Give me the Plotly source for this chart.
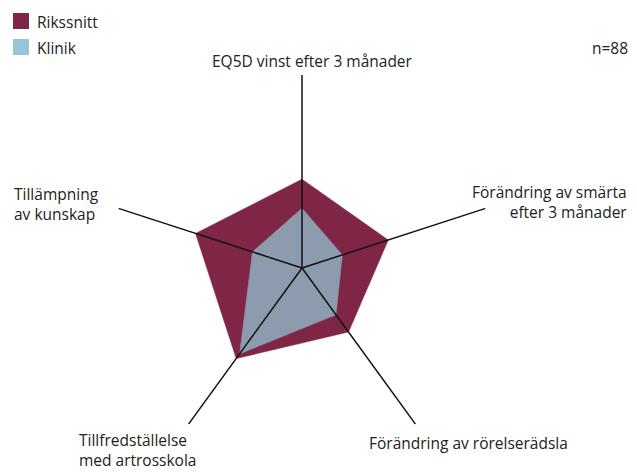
import plotly.graph_objects as go

categories = [
    "EQ5D vinst efter 3 månader",
    "Förändring av smärta<br>efter 3 månader",
    "Förändring av rörelserädsla",
    "Tillfredställelse<br>med artrosskola",
    "Tillämpning<br>av kunskap",
]
rikssnitt = [46, 47, 41, 58, 58]
klinik = [31, 22, 30, 55, 27]
series_names = ["Rikssnitt", "Klinik"]
n_text = "n=88"
r_max = 100

MAROON = "#7F2545"
FILL_BLUE = "#8C9BAD"
LEGEND_BLUE = "#96C6D6"
TEXT = "#222222"
FONT = "Open Sans"
FS = 15.5

theta_labels = [str(i) for i in range(len(categories))]

fig = go.Figure()
fig.add_trace(go.Scatterpolar(
    r=rikssnitt + [rikssnitt[0]], theta=theta_labels + [theta_labels[0]],
    fill="toself", fillcolor=MAROON, line=dict(color=MAROON, width=0.5),
    mode="lines", name=series_names[0], showlegend=False, hoverinfo="skip"))
fig.add_trace(go.Scatterpolar(
    r=klinik + [klinik[0]], theta=theta_labels + [theta_labels[0]],
    fill="toself", fillcolor=FILL_BLUE, line=dict(color=FILL_BLUE, width=0.5),
    mode="lines", name=series_names[1], showlegend=False, hoverinfo="skip"))

# spokes drawn on top of the fills
for t in theta_labels:
    fig.add_trace(go.Scatterpolar(
        r=[0, r_max], theta=[t, t], mode="lines",
        line=dict(color="#111111", width=1.5),
        showlegend=False, hoverinfo="skip"))

cx, cy, R = 302, 268, 193
W, H = 637, 472
fig.update_layout(
    width=W, height=H, margin=dict(l=0, r=0, t=0, b=0),
    paper_bgcolor="white", plot_bgcolor="white",
    font=dict(family=FONT, size=FS, color=TEXT),
    polar=dict(
        domain=dict(x=[(cx - R) / W, (cx + R) / W],
                    y=[(H - cy - R) / H, (H - cy + R) / H]),
        bgcolor="rgba(0,0,0,0)",
        radialaxis=dict(range=[0, r_max], visible=False, showgrid=False),
        angularaxis=dict(type="category", categoryarray=theta_labels,
                         direction="clockwise", rotation=90,
                         showline=False, showticklabels=False, ticks="",
                         showgrid=False),
    ),
)

# axis labels
label_pos = [
    dict(x=312, y=61, xanchor="center"),
    dict(x=629, y=202, xanchor="right"),
    dict(x=468, y=443, xanchor="center"),
    dict(x=77, y=450, xanchor="left"),
    dict(x=12, y=204, xanchor="left"),
]
aligns = ["center", "right", "center", "left", "left"]
for cat, p, al in zip(categories, label_pos, aligns):
    fig.add_annotation(text=cat, x=p["x"] / W, y=1 - p["y"] / H, xref="paper", yref="paper",
                       xanchor=p["xanchor"], yanchor="middle", align=al, showarrow=False,
                       font=dict(size=FS, color=TEXT, family=FONT))

fig.add_annotation(text=n_text, x=630 / W, y=1 - 48 / H, xref="paper", yref="paper",
                   xanchor="right", yanchor="middle", showarrow=False,
                   font=dict(size=FS, color=TEXT, family=FONT))

# manual legend
for i, (nm, col) in enumerate(zip(series_names, [MAROON, LEGEND_BLUE])):
    y0 = 13 + i * 26
    fig.add_shape(type="rect", xref="paper", yref="paper",
                  x0=13 / W, x1=29 / W, y0=1 - y0 / H, y1=1 - (y0 + 16) / H,
                  fillcolor=col, line=dict(width=0))
    fig.add_annotation(text=nm, x=35 / W, y=1 - (y0 + 9) / H, xref="paper", yref="paper",
                       xanchor="left", yanchor="middle", showarrow=False,
                       font=dict(size=FS, color=TEXT, family=FONT))

fig.write_html("out.html", config={"displayModeBar": False},
               post_script="document.body.style.margin='0px';")
